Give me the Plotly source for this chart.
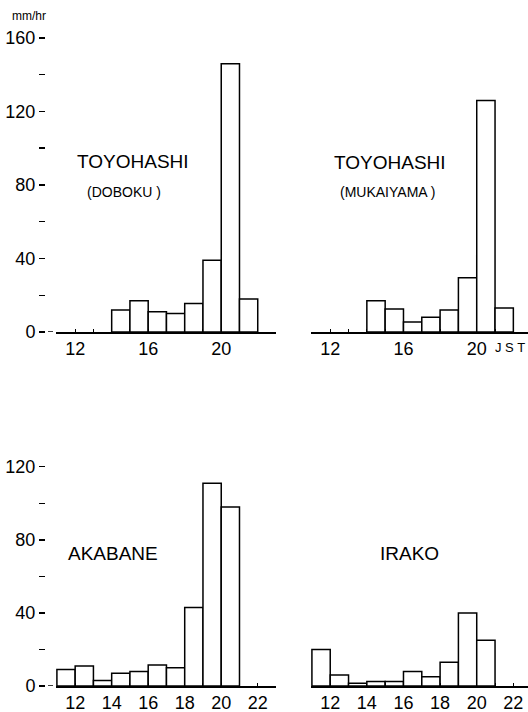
import plotly.graph_objects as go

# ---- data (hourly rainfall, mm/hr; x = start hour JST) ----
doboku_hours = [14, 15, 16, 17, 18, 19, 20, 21]
doboku_vals = [12, 17, 11, 10, 15.5, 39, 146, 18]

mukaiyama_hours = [14, 15, 16, 17, 18, 19, 20, 21]
mukaiyama_vals = [17, 12.5, 5.5, 8, 12, 29.5, 126, 13]

akabane_hours = [11, 12, 13, 14, 15, 16, 17, 18, 19, 20]
akabane_vals = [9, 11, 3, 7, 8, 11.5, 10, 43, 111, 98]

irako_hours = [11, 12, 13, 14, 15, 16, 17, 18, 19, 20]
irako_vals = [20, 6, 1.5, 2.5, 2.5, 8, 5, 13, 40, 25]

top_xticks = [12, 16, 20]
bottom_xticks = [12, 14, 16, 18, 20, 22]
top_yticks = [0, 40, 80, 120, 160]
bottom_yticks = [0, 40, 80, 120]

W, H = 528, 712
FONT = "Liberation Sans"


def px(x):
    return x / W


def py(y):
    return 1 - y / H


fig = go.Figure()

bar_style = dict(width=1, offset=0, marker=dict(color="white", line=dict(color="black", width=1.5)),
                 showlegend=False, hoverinfo="skip")

fig.add_trace(go.Bar(x=doboku_hours, y=doboku_vals, xaxis="x", yaxis="y", **bar_style))
fig.add_trace(go.Bar(x=mukaiyama_hours, y=mukaiyama_vals, xaxis="x2", yaxis="y2", **bar_style))
fig.add_trace(go.Bar(x=akabane_hours, y=akabane_vals, xaxis="x3", yaxis="y3", **bar_style))
fig.add_trace(go.Bar(x=irako_hours, y=irako_vals, xaxis="x4", yaxis="y4", **bar_style))

left_dom = [px(56), px(276)]
right_dom = [px(311), 1.0]
top_dom = [py(332), py(34.3)]
bot_dom = [py(686), py(457.6)]

tickfont = dict(family=FONT, size=18, color="black")


def xax(domain, rng, tickvals, anchor):
    return dict(domain=domain, range=rng, anchor=anchor, showline=True, linecolor="black",
                linewidth=1.5, showgrid=False, zeroline=False, tickvals=tickvals,
                ticks="inside", ticklen=3, tickcolor="black", tickwidth=1,
                minor=dict(ticks="inside", dtick=1, ticklen=3, tickcolor="black", showgrid=False),
                tickfont=tickfont, fixedrange=True, automargin=False)


def yax_left(domain, rng, tickvals):
    return dict(domain=domain, range=rng, anchor="free", position=px(45), showline=False,
                showgrid=False, zeroline=False, tickvals=tickvals, ticks="outside", ticklen=6,
                tickwidth=1.5, tickcolor="black",
                minor=dict(ticks="outside", dtick=20, ticklen=6, tickwidth=1.5, tickcolor="black",
                           showgrid=False),
                tickfont=tickfont, fixedrange=True, automargin=False)


def yax_hidden(domain, rng, anchor):
    return dict(domain=domain, range=rng, anchor=anchor, visible=False, fixedrange=True,
                automargin=False)


fig.update_layout(
    width=W, height=H,
    margin=dict(l=0, r=0, t=0, b=0, autoexpand=False),
    paper_bgcolor="white", plot_bgcolor="rgba(0,0,0,0)",
    bargap=0,
    xaxis=xax(left_dom, [10.95, 23], top_xticks, "y"),
    yaxis=yax_left(top_dom, [0, 162], top_yticks),
    xaxis2=xax(right_dom, [10.95, 22.8], top_xticks, "y2"),
    yaxis2=yax_hidden(top_dom, [0, 162], "x2"),
    xaxis3=xax(left_dom, [10.95, 23], bottom_xticks, "y3"),
    yaxis3=yax_left(bot_dom, [0, 125], bottom_yticks),
    xaxis4=xax(right_dom, [10.95, 22.8], bottom_xticks, "y4"),
    yaxis4=yax_hidden(bot_dom, [0, 125], "x4"),
)

# small dash between the "0" tick and the baseline
for yref in ["y", "y3"]:
    fig.add_shape(type="line", xref="paper", yref=yref, x0=px(48), x1=px(53), y0=0, y1=0,
                  line=dict(color="black", width=1.5))


def ann(text, x, y, size, xanchor="center"):
    fig.add_annotation(text=text, x=px(x), y=py(y), xref="paper", yref="paper",
                       showarrow=False, xanchor=xanchor, yanchor="middle",
                       font=dict(family=FONT, size=size, color="black"))


ann("mm/hr", 29, 16, 12)
ann("TOYOHASHI", 133, 161, 19)
ann("(DOBOKU )", 124, 192, 14)
ann("TOYOHASHI", 390, 163, 19)
ann("(MUKAIYAMA )", 387, 192, 14)
ann("AKABANE", 113, 553, 19)
ann("IRAKO", 409, 553, 19)
ann("J S T", 527, 347, 13, xanchor="right")

fig.write_html(
    "out.html",
    config={"displayModeBar": False, "staticPlot": True},
    post_script="document.body.style.margin='0';document.body.style.overflow='hidden';",
)
